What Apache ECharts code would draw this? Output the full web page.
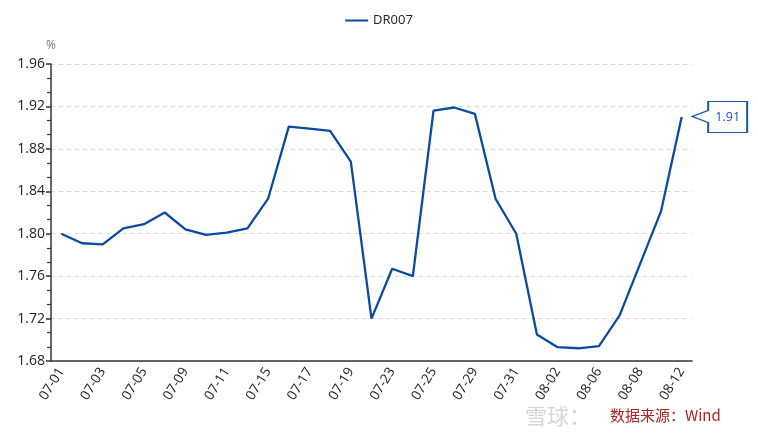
<!DOCTYPE html>
<html>
<head>
<meta charset="utf-8">
<script src="https://cdn.jsdelivr.net/npm/echarts@6/dist/echarts.min.js"></script>
<style>
html,body{margin:0;padding:0;background:#fff;}
#main{width:758px;height:437px;}
</style>
</head>
<body>
<div id="main"></div>
<script>
const categories = ['07-01','07-02','07-03','07-04','07-05','07-08','07-09','07-10','07-11','07-12',
  '07-15','07-16','07-17','07-18','07-19','07-22','07-23','07-24','07-25','07-26',
  '07-29','07-30','07-31','08-01','08-02','08-05','08-06','08-07','08-08','08-09','08-12'];
const dr007 = [1.800,1.791,1.790,1.805,1.809,1.820,1.804,1.799,1.801,1.805,
  1.833,1.901,1.899,1.897,1.868,1.720,1.767,1.760,1.916,1.919,
  1.913,1.833,1.800,1.705,1.693,1.692,1.694,1.723,1.772,1.821,1.910];
const seriesName = 'DR007';
const yTicks = { min: 1.68, max: 1.96, interval: 0.04 };
const sourceText = '数据来源：Wind';

const chart = echarts.init(document.getElementById('main'), null, {renderer:'canvas'});
const fontFam = '"Open Sans", "Noto Sans CJK SC", sans-serif';
const lineColor = '#0b4aa2';
const lastIdx = dr007.length - 1;

chart.setOption({
  animation: false,
  textStyle: { fontFamily: fontFam },
  legend: {
    top: 9, left: 'center',
    itemWidth: 23, itemHeight: 12, itemGap: 8,
    icon: 'path://M0 5 L23 5 L23 7 L0 7 Z',
    textStyle: { fontSize: 13, color: '#222', fontFamily: fontFam },
    data: [seriesName]
  },
  grid: { left: 51, right: 66, top: 64, bottom: 76 },
  xAxis: {
    type: 'category',
    data: categories,
    boundaryGap: true,
    axisLine: { lineStyle: { color: '#333', width: 1.5 } },
    axisTick: { alignWithLabel: true, interval: 0, length: 6, lineStyle: { color: '#333', width: 1.5 } },
    axisLabel: { interval: 1, rotate: 58, color: '#222', fontSize: 13.5, margin: 8, fontFamily: fontFam },
    splitLine: { show: false }
  },
  yAxis: {
    type: 'value',
    name: '%',
    nameLocation: 'end',
    nameGap: 12,
    nameTextStyle: { color: '#777', fontSize: 12, align: 'center' },
    min: yTicks.min, max: yTicks.max, interval: yTicks.interval,
    axisLine: { show: true, lineStyle: { color: '#333', width: 1.5 } },
    axisTick: { show: true, length: 5, lineStyle: { color: '#333', width: 1.5 } },
    minorTick: { show: true, splitNumber: 3, length: 4, lineStyle: { color: '#333', width: 1.2 } },
    axisLabel: { color: '#222', fontSize: 14, margin: 6, formatter: v => v.toFixed(2), fontFamily: fontFam },
    splitLine: { show: true, lineStyle: { color: '#d8d8d8', type: [4, 4], width: 1 } }
  },
  series: [{
    name: seriesName,
    type: 'line',
    data: dr007,
    symbol: 'none',
    smooth: false,
    lineStyle: { color: lineColor, width: 2.3 },
    itemStyle: { color: lineColor },
    markPoint: {
      symbol: 'path://M0 15 L16 9 L16 0 L55 0 L55 31 L16 31 L16 21 Z',
      symbolKeepAspect: false,
      symbolSize: [55, 31],
      symbolOffset: [38, 0],
      itemStyle: { color: '#fff', borderColor: '#1a56b0', borderWidth: 1.5 },
      label: {
        show: true, position: 'inside', offset: [8, 0],
        color: '#1a56b0', fontSize: 12.5, fontFamily: fontFam,
        formatter: p => p.value.toFixed(2)
      },
      data: [{ coord: [lastIdx, dr007[lastIdx]], value: dr007[lastIdx] }]
    }
  }],
  graphic: [
    { type: 'text', left: 525, top: 405,
      style: { text: '雪球：', fill: 'rgba(180,180,180,0.55)', font: '22px "Noto Sans CJK SC"' } },
    { type: 'text', left: 610, top: 408,
      style: { text: sourceText, fill: '#b22222', font: '15px "Noto Sans CJK SC"' } }
  ]
});
</script>
</body>
</html>
